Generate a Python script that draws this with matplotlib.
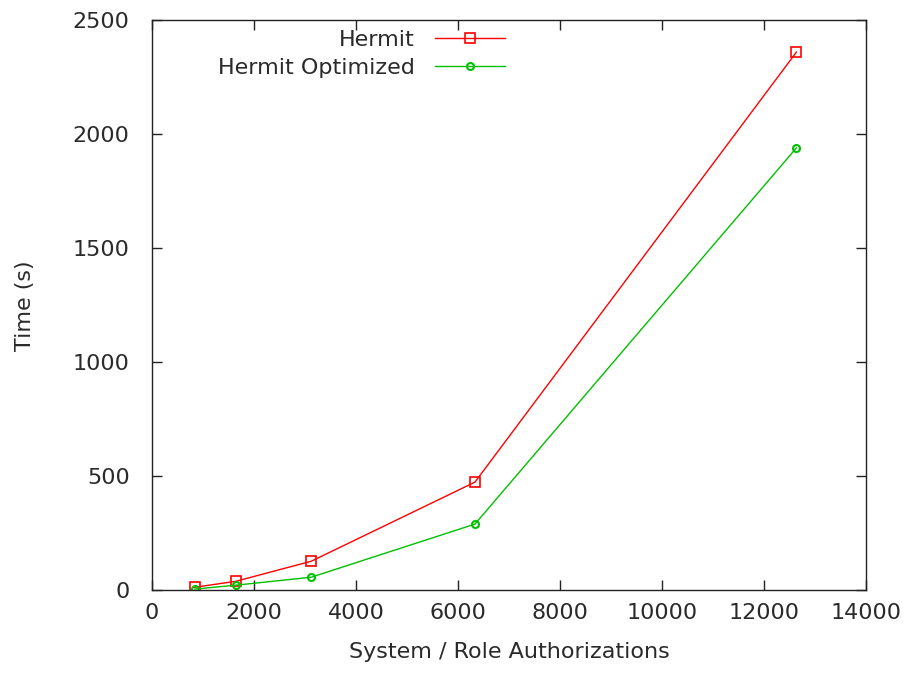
import matplotlib
matplotlib.use('Agg')
import matplotlib.pyplot as plt

# data
authorizations = [840, 1640, 3120, 6330, 12630]
hermit = [13, 39, 127, 474, 2360]
hermit_opt = [5, 22, 57, 290, 1940]

plt.rcParams['font.family'] = ['DejaVu Sans']
plt.rcParams['font.size'] = 16

fig = plt.figure(figsize=(9.1, 6.73), dpi=100)
ax = fig.add_axes([0.167, 0.123, 0.785, 0.847])

ax.plot(authorizations, hermit, color='#ff0000', lw=1, marker='s', ms=7,
        mfc='none', mec='#ff0000', mew=1.2, label='Hermit')
ax.plot(authorizations, hermit_opt, color='#00c000', lw=1, marker='o', ms=5,
        mfc='none', mec='#00c000', mew=1.5, label='Hermit Optimized')

ax.set_xlim(0, 14000)
ax.set_ylim(0, 2500)
ax.set_xticks(range(0, 14001, 2000))
ax.set_yticks(range(0, 2501, 500))
ax.tick_params(direction='in', top=True, right=True, length=7, width=1,
               colors='#222222', labelcolor='#2a2a2a', pad=9)
ax.tick_params(axis='y', pad=16)
for s in ax.spines.values():
    s.set_color('#222222')
    s.set_linewidth(1)

ax.set_xlabel('System / Role Authorizations', color='#2a2a2a', labelpad=14)
ax.set_ylabel('Time (s)', color='#2a2a2a', labelpad=27)

leg = ax.legend(loc='upper right', bbox_to_anchor=(0.494, 0.983), frameon=False,
                markerfirst=False, handlelength=3.15, handletextpad=0.9,
                labelspacing=0.36, borderaxespad=0, borderpad=0)
for t in leg.get_texts():
    t.set_color('#2a2a2a')

fig.savefig('out.png', dpi=100)
